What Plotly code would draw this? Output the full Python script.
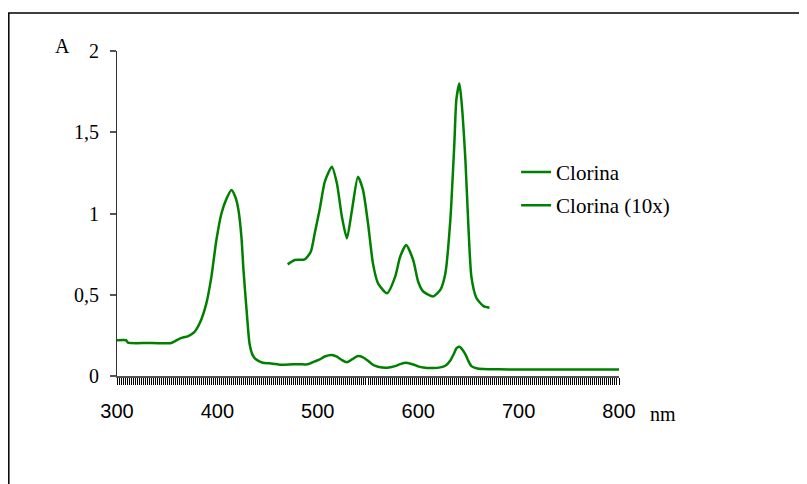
import plotly.graph_objects as go

# Main spectrum (nm, absorbance)
wl_main = [300, 309, 311, 330, 354, 358, 363, 371, 377, 383, 389, 394, 399, 404, 409, 414,
           418, 421, 424, 426, 429, 432, 435, 438, 445, 452, 462, 475, 482, 490, 497, 502,
           507, 514, 519, 524, 529, 534, 540, 545, 550, 555, 560, 569, 577, 582, 588, 595,
           600, 605, 615, 622, 627, 632, 636, 638, 641, 643, 647, 650, 653, 658, 665, 671,
           690, 720, 760, 800]
abs_main = [0.22, 0.22, 0.205, 0.203, 0.203, 0.215, 0.232, 0.246, 0.27, 0.334, 0.447, 0.61,
            0.837, 1.0, 1.09, 1.145, 1.10, 1.02, 0.85, 0.65, 0.41, 0.20, 0.13, 0.105, 0.082,
            0.078, 0.07, 0.072, 0.072, 0.072, 0.09, 0.102, 0.12, 0.129, 0.119, 0.098, 0.085,
            0.102, 0.123, 0.115, 0.094, 0.069, 0.057, 0.051, 0.061, 0.073, 0.081, 0.071,
            0.059, 0.052, 0.049, 0.053, 0.063, 0.096, 0.143, 0.17, 0.18, 0.17, 0.133, 0.092,
            0.061, 0.048, 0.043, 0.042, 0.04, 0.04, 0.04, 0.04]

# Spectrum magnified 10x (470-670 nm)
wl_10x = [470, 477, 487, 493, 497, 502, 507, 514, 519, 524, 529, 534, 540, 545, 550, 555,
          560, 569, 577, 582, 588, 595, 600, 605, 615, 622, 627, 632, 636, 638, 641, 643,
          647, 650, 653, 658, 665, 671]
abs_10x = [0.687, 0.714, 0.718, 0.765, 0.88, 1.03, 1.196, 1.288, 1.186, 0.98, 0.847, 1.02,
           1.226, 1.145, 0.94, 0.69, 0.57, 0.509, 0.61, 0.734, 0.806, 0.714, 0.58, 0.52,
           0.49, 0.53, 0.63, 0.96, 1.43, 1.70, 1.80, 1.70, 1.33, 0.92, 0.61, 0.48, 0.43, 0.42]

y_ticks = [0, 0.5, 1, 1.5, 2]
y_labels = ["0", "0,5", "1", "1,5", "2"]
x_ticks = [300, 400, 500, 600, 700, 800]

GREEN = "#008000"
SERIF = "Liberation Serif"
SANS = "Liberation Sans"

# page body has an 8px margin: plot area 117..619 x 51..376 in window coords
L, T = 109, 43
PW, PH = 502, 325

fig = go.Figure()
fig.add_trace(go.Scatter(x=wl_main, y=abs_main, mode="lines", name="Clorina",
                         line=dict(color=GREEN, width=2.5, shape="spline", smoothing=0.6),
                         legendgroup="a"))
fig.add_trace(go.Scatter(x=wl_10x, y=abs_10x, mode="lines", name="Clorina (10x)",
                         line=dict(color=GREEN, width=2.5, shape="spline", smoothing=0.6),
                         legendgroup="b"))

def px_x(p):
    return (p - 117) / PW

def px_y(p):
    return (376 - p) / PH

fig.update_layout(
    width=799, height=476,
    margin=dict(l=L, r=799 - L - PW, t=T, b=476 - T - PH),
    paper_bgcolor="white", plot_bgcolor="white",
    showlegend=True,
    legend=dict(x=0.795, y=0.69, xanchor="left", yanchor="top",
                font=dict(family=SERIF, size=21, color="black"),
                tracegroupgap=3, bgcolor="rgba(0,0,0,0)"),
    xaxis=dict(range=[300, 800], tickvals=x_ticks, showgrid=False, zeroline=False,
               showline=True, linecolor="#555555", linewidth=1.5,
               ticks="outside", ticklen=7, tickcolor="#000000", tickwidth=1,
               minor=dict(dtick=2, tick0=300, ticks="outside", ticklen=7,
                          tickcolor="#000000", tickwidth=1, showgrid=False),
               tickfont=dict(family=SANS, size=20, color="black"),
               ticklabelstandoff=9),
    yaxis=dict(range=[0, 2], tickvals=y_ticks, ticktext=y_labels, showgrid=False,
               zeroline=False, showline=True, linecolor="#333333", linewidth=1,
               ticks="outside", ticklen=6, tickcolor="#555555", tickwidth=1.5,
               tickfont=dict(family=SERIF, size=20, color="black"),
               ticklabelstandoff=7),
    annotations=[
        dict(text="A", xref="paper", yref="paper", x=px_x(62), y=px_y(46),
             showarrow=False, xanchor="center", yanchor="middle",
             font=dict(family=SERIF, size=20, color="black")),
        dict(text="nm", xref="paper", yref="paper", x=px_x(663), y=px_y(414),
             showarrow=False, xanchor="center", yanchor="middle",
             font=dict(family=SERIF, size=20, color="black")),
    ],
    shapes=[
        dict(type="rect", xref="paper", yref="paper",
             x0=px_x(8.8), y0=px_y(500), x1=px_x(830), y1=px_y(13),
             line=dict(color="black", width=1.5), fillcolor="rgba(0,0,0,0)", layer="below"),
    ],
)

fig.write_html("out.html")
